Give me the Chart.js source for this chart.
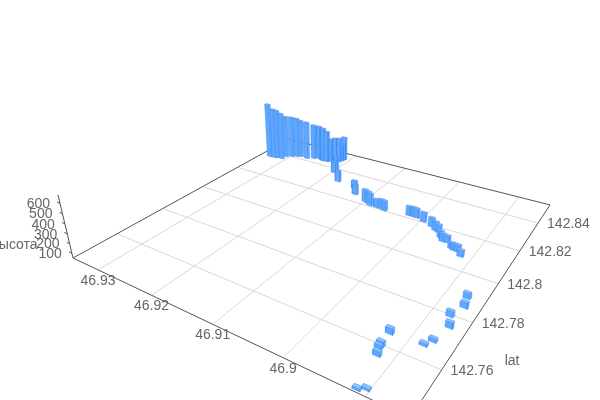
<!DOCTYPE html>
<html>
<head>
<meta charset="utf-8">
<script src="https://cdn.jsdelivr.net/npm/chart.js@4/dist/chart.umd.min.js"></script>
<style>
html, body { margin: 0; padding: 0; background: #fff; }
canvas { display: block; }
</style>
</head>
<body>
<canvas id="chart" width="600" height="400"></canvas>
<script>
// Values, one bar per index
var lonValues = [
	46.9333, 46.9323, 46.9318, 46.9309, 46.9308, 46.9299, 46.9291, 46.9285, 46.9271, 46.9260, 46.9252,
	46.9241, 46.9233, 46.9243, 46.9227, 46.9220, 46.9214, 46.9211, 46.9212, 46.9197, 46.9197, 46.9173,
	46.9137, 46.9125, 46.9100, 46.9093, 46.9087, 46.9075, 46.9068, 46.9061, 46.9022, 46.9015, 46.9010,
	46.8996, 46.8980, 46.8971, 46.8965, 46.8957, 46.8950, 46.8944, 46.8933, 46.8928, 46.8923, 46.8915,
	46.8923, 46.8922, 46.8922, 46.8918, 46.8912, 46.8904, 46.8883, 46.8877, 46.8871, 46.8878, 46.8870, 46.8874
];
var latValues = [
	142.8358, 142.8360, 142.8367, 142.8368, 142.8394, 142.8407, 142.8418, 142.8427, 142.8424, 142.8439, 142.8450,
	142.8442, 142.8442, 142.8440, 142.8451, 142.8460, 142.8468, 142.8496, 142.8483, 142.8382, 142.8370, 142.8311,
	142.8295, 142.8255, 142.8227, 142.8220, 142.8210, 142.8211, 142.8212, 142.8205, 142.8220, 142.8221, 142.8220,
	142.8208, 142.8192, 142.8176, 142.8170, 142.8145, 142.8127, 142.8129, 142.8103, 142.8097, 142.8097, 142.8076,
	142.7650, 142.7598, 142.7586, 142.7563, 142.7443, 142.7454, 142.7656, 142.7681, 142.7752, 142.7794, 142.7849, 142.7891
];
var heightValues = [
	700, 650, 635, 610, 550, 540, 525, 500, 500, 465, 450,
	450, 420, 325, 325, 335, 335, 325, 250, 230, 185, 180,
	140, 165, 185, 185, 185, 140, 150, 160, 150, 150, 150,
	150, 147, 145, 135, 122, 132, 122, 110, 120, 120, 118,
	108, 98, 90, 98, 72, 72, 78, 86, 108, 108, 108, 108
];

var lonTicks = [46.93, 46.92, 46.91, 46.9, 46.89];
var lonTickLabels = ['46.93', '46.92', '46.91', '46.9', ''];
var latTicks = [142.76, 142.78, 142.8, 142.82, 142.84];
var latTickLabels = ['142.76', '142.78', '142.8', '142.82', '142.84'];
var heightTicks = [100, 200, 300, 400, 500, 600];
var heightTickLabels = ['100', '200', '300', '400', '500', '600'];

var latAxisName = 'lat';
var heightAxisName = 'высота';

// Ranges of the box
var lonStart = 46.93515, lonEnd = 46.88515;
var latStart = 142.74326, latEnd = 142.85487;
var heightMin = 50, heightMax = 680;

// half footprint of one bar, in degrees
var barHalfLon = 0.00044, barHalfLat = 0.0005;

// Perspective camera, fitted to the corners of the floor
function Project(lon, lat, height) {
	var u = (lonStart - lon) / (lonStart - lonEnd);
	var v = (lat - latStart) / (latEnd - latStart);
	var z = (height - heightMin) / (heightMax - heightMin);
	var w = -0.3011 * u + 0.4527 * v - 0.055 * z + 1;
	return {
		x: (213.6 * u + 346.8 * v - 18.2 * z + 73) / w,
		y: (34.1 * u - 56.1 * v - 73.9 * z + 258) / w
	};
}

function Depth(lon, lat) {
	var u = (lonStart - lon) / (lonStart - lonEnd);
	var v = (lat - latStart) / (latEnd - latStart);
	return -0.3011 * u + 0.4527 * v + 1;
}

function LineDataset(points, color) {
	return {
		data: points,
		showLine: true,
		fill: false,
		borderColor: color,
		borderWidth: 1,
		pointRadius: 0,
		tension: 0
	};
}

function FaceDataset(points, color) {
	return {
		data: points.concat([points[0]]),
		showLine: true,
		fill: 'shape',
		backgroundColor: color,
		borderColor: 'rgba(62,134,246,0.75)',
		borderWidth: 0.6,
		pointRadius: 0,
		tension: 0
	};
}

function BuildDatasets() {
	var datasets = [];
	var i;

	// floor grid
	for(i = 0; i < latTicks.length; i++) {
		datasets.push(LineDataset([Project(lonStart, latTicks[i], heightMin), Project(lonEnd, latTicks[i], heightMin)], '#d8d8d8'));
	}
	for(i = 0; i < lonTicks.length; i++) {
		datasets.push(LineDataset([Project(lonTicks[i], latStart, heightMin), Project(lonTicks[i], latEnd, heightMin)], '#d8d8d8'));
	}

	// dark edges of the floor and the height axis
	datasets.push(LineDataset([
		Project(lonStart, latEnd, heightMin),
		Project(lonStart, latStart, heightMin),
		Project(lonEnd, latStart, heightMin),
		Project(lonEnd, latEnd, heightMin),
		Project(lonStart, latEnd, heightMin)
	], '#555'));
	datasets.push(LineDataset([Project(lonStart, latStart, heightMin), Project(lonStart, latStart, heightMax)], '#555'));

	// small ticks on the height axis
	for(i = 0; i < heightTicks.length; i++) {
		datasets.push(LineDataset([
			Project(lonStart, latStart, heightTicks[i]),
			Project(lonStart + 0.0006, latStart, heightTicks[i])
		], '#555'));
	}

	// far bars first so the near ones cover them
	var order = lonValues.map(function(lon, index) { return index; });
	order.sort(function(a, b) {
		return Depth(lonValues[b], latValues[b]) - Depth(lonValues[a], latValues[a]);
	});

	order.forEach(function(index) {
		var w = lonValues[index] + barHalfLon, e = lonValues[index] - barHalfLon;
		var s = latValues[index] - barHalfLat, n = latValues[index] + barHalfLat;
		var top = heightValues[index];

		datasets.push(FaceDataset([
			Project(w, s, heightMin), Project(e, s, heightMin), Project(e, s, top), Project(w, s, top)
		], 'rgba(92,166,252,0.97)'));
		datasets.push(FaceDataset([
			Project(e, s, heightMin), Project(e, n, heightMin), Project(e, n, top), Project(e, s, top)
		], 'rgba(106,176,254,0.97)'));
		datasets.push(FaceDataset([
			Project(w, s, top), Project(e, s, top), Project(e, n, top), Project(w, n, top)
		], 'rgba(132,192,255,0.97)'));
	});

	// later datasets on top
	datasets.forEach(function(dataset, index) {
		dataset.order = -index;
	});
	return datasets;
}

// Axis text sits next to the projected ticks
var axisText = {
	id: 'axisText',
	afterDatasetsDraw: function(chart) {
		var ctx = chart.ctx;
		var scaleX = chart.scales.x, scaleY = chart.scales.y;
		var put = function(text, point, dx, dy, align) {
			ctx.textAlign = align;
			ctx.fillText(text, scaleX.getPixelForValue(point.x) + dx, scaleY.getPixelForValue(point.y) + dy);
		};
		var i;

		ctx.save();
		ctx.font = '14px "Liberation Sans", Arial, sans-serif';
		ctx.fillStyle = '#666';
		ctx.textBaseline = 'middle';

		for(i = 0; i < lonTicks.length; i++) {
			put(lonTickLabels[i], Project(lonTicks[i], latStart, heightMin), 0, 11, 'center');
		}
		for(i = 0; i < latTicks.length; i++) {
			put(latTickLabels[i], Project(lonEnd, latTicks[i], heightMin), 9, 1, 'left');
		}
		for(i = 0; i < heightTicks.length; i++) {
			put(heightTickLabels[i], Project(lonStart, latStart, heightTicks[i]), -10, 1, 'right');
		}
		put(heightAxisName, Project(lonStart, latStart, heightTicks[1]), -32, 2, 'right');
		put(latAxisName, Project(lonEnd, latTicks[1], heightMin), 32, 38, 'left');
		ctx.restore();
	}
};

new Chart(document.getElementById('chart'), {
	type: 'scatter',
	data: { datasets: BuildDatasets() },
	options: {
		responsive: false,
		animation: false,
		devicePixelRatio: 1,
		layout: { padding: 0 },
		plugins: {
			legend: { display: false },
			tooltip: { enabled: false }
		},
		scales: {
			x: { type: 'linear', display: false, min: 0, max: 600 },
			y: { type: 'linear', display: false, min: 0, max: 400, reverse: true }
		}
	},
	plugins: [axisText]
});
</script>
</body>
</html>
